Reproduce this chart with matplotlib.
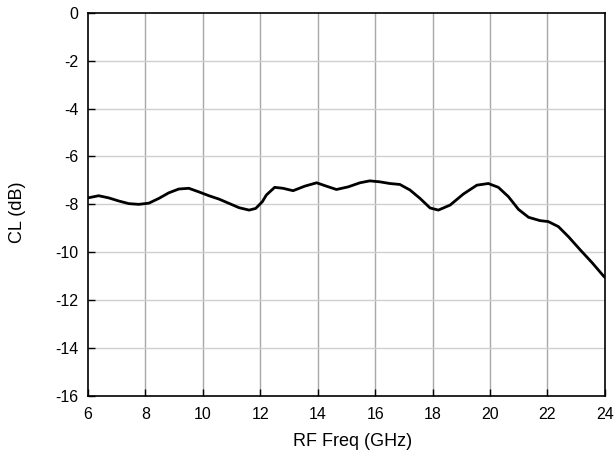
import numpy as np
import matplotlib
matplotlib.use("Agg")
import matplotlib.pyplot as plt

plt.rcParams['font.family'] = ['Liberation Sans', 'DejaVu Sans']
plt.rcParams['axes.unicode_minus'] = False

# values
freq = [6.0, 6.37, 6.72, 7.07, 7.42, 7.77, 8.12, 8.47, 8.81, 9.16, 9.51, 9.86,
        10.21, 10.56, 10.91, 11.26, 11.61, 11.84, 12.07, 12.21, 12.50, 12.79,
        13.14, 13.55, 13.96, 14.30, 14.65, 15.06, 15.47, 15.81, 16.16, 16.51,
        16.86, 17.21, 17.56, 17.91, 18.20, 18.61, 19.07, 19.54, 19.94, 20.29,
        20.64, 20.99, 21.34, 21.74, 22.03, 22.38, 22.73, 23.14, 23.55, 23.95, 24.0]
cl = [-7.73, -7.64, -7.73, -7.86, -7.97, -8.00, -7.95, -7.75, -7.52, -7.36, -7.33, -7.48,
      -7.64, -7.78, -7.96, -8.14, -8.24, -8.17, -7.89, -7.61, -7.29, -7.33,
      -7.43, -7.24, -7.10, -7.24, -7.38, -7.27, -7.10, -7.02, -7.06, -7.13,
      -7.17, -7.40, -7.75, -8.15, -8.24, -8.03, -7.57, -7.20, -7.13, -7.29,
      -7.68, -8.21, -8.54, -8.68, -8.72, -8.93, -9.35, -9.90, -10.43, -10.99, -11.05]

xticks = [6, 8, 10, 12, 14, 16, 18, 20, 22, 24]
yticks = [0, -2, -4, -6, -8, -10, -12, -14, -16]

fig = plt.figure(figsize=(6.16, 4.59), dpi=100)
ax = fig.add_axes([0.1429, 0.1373, 0.982 - 0.1429, 0.9723 - 0.1373])

ax.plot(freq, cl, color='black', linewidth=2.0, solid_joinstyle='round',
        solid_capstyle='round', zorder=3)

ax.set_xlim(6, 24)
ax.set_ylim(-16, 0)
ax.set_xticks(xticks)
ax.set_yticks(yticks)

for x in xticks[1:-1]:
    ax.axvline(x, color='#a8a8a8', linewidth=1.0, zorder=1)
for y in yticks[1:-1]:
    ax.axhline(y, color='#cfcfcf', linewidth=1.0, zorder=1)

ax.tick_params(direction='in', length=5, width=1.0, labelsize=11.5,
               top=False, right=False)
ax.tick_params(axis='x', pad=8)
ax.tick_params(axis='y', pad=7)
for s in ax.spines.values():
    s.set_linewidth(1.2)
    s.set_color('black')

ax.set_xlabel('RF Freq (GHz)', fontsize=13)
ax.set_ylabel('CL (dB)', fontsize=13)
ax.xaxis.set_label_coords(0.511, -0.097)
ax.yaxis.set_label_coords(-0.12, 0.48)

fig.savefig('out.png', dpi=100)
